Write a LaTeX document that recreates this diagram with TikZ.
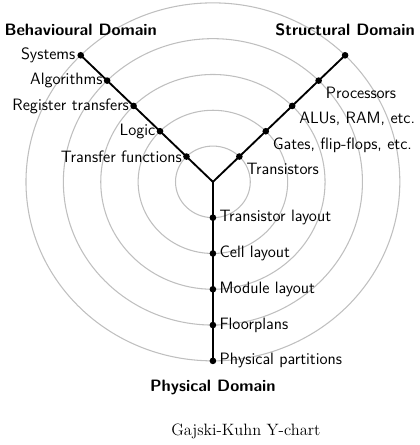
\documentclass[tikz,border=0pt]{standalone}
\usepackage{tikz}
\usetikzlibrary{positioning}

\begin{document}
\begin{tikzpicture}[x=0.991cm, y=0.949cm,
	every node/.style={font=\fontsize{12.4pt}{15pt}\selectfont\sffamily},
	ring/.style={gray!50, line width=0.8pt},
	arm/.style={line width=1.4pt},
	dot/.style={circle, fill=black, inner sep=0pt, minimum size=5pt},
	domainlabel/.style={font=\fontsize{12.4pt}{15pt}\selectfont\sffamily\bfseries}]
	\useasboundingbox (-5.695,-7.35) rectangle (5.535,5.08);
	% rings
	\draw[ring] (0,0) circle (1);
	\draw[ring] (0,0) circle (2);
	\draw[ring] (0,0) circle (3);
	\draw[ring] (0,0) circle (4);
	\draw[ring] (0,0) circle (5);
	% the three axes
	\coordinate (o) at (0,0);
	\node[dot] (b1) at (135:1) {};
	\node[dot] (b2) at (135:2) {};
	\node[dot] (b3) at (135:3) {};
	\node[dot] (b4) at (135:4) {};
	\node[dot] (b5) at (135:5) {};
	\node[dot] (s1) at (45:1) {};
	\node[dot] (s2) at (45:2) {};
	\node[dot] (s3) at (45:3) {};
	\node[dot] (s4) at (45:4) {};
	\node[dot] (s5) at (45:5) {};
	\node[dot] (p1) at (0,-1) {};
	\node[dot] (p2) at (0,-2) {};
	\node[dot] (p3) at (0,-3) {};
	\node[dot] (p4) at (0,-4) {};
	\node[dot] (p5) at (0,-5) {};
	\draw[arm] (o) -- (b5.center);
	\draw[arm] (o) -- (s5.center);
	\draw[arm] (o) -- (p5.center);
	% behavioural
	\node[anchor=east] (lsys) at ([xshift=-0.5pt]b5) {Systems};
	\node[anchor=east] (lalg) at (b4) {Algorithms};
	\node[anchor=east] (lreg) at (b3) {Register transfers};
	\node[anchor=east] (llog) at (b2) {Logic};
	\node[anchor=east] (ltf) at (b1) {Transfer functions};
	% structural
	\node[anchor=base west] (lproc) at ([shift={(1.9pt,-13.5pt)}]s4) {Processors};
	\node[anchor=base west] (lalu) at ([shift={(1.9pt,-13.5pt)}]s3) {ALUs, RAM, etc.};
	\node[anchor=base west] (lgat) at ([shift={(1.9pt,-13.5pt)}]s2) {Gates, flip-flops, etc.};
	\node[anchor=base west] (ltr) at ([shift={(1.9pt,-13.5pt)}]s1) {Transistors};
	% physical
	\node[anchor=west] (ltl) at ([xshift=1.5pt]p1) {Transistor layout};
	\node[anchor=west] (lcl) at ([xshift=1.5pt]p2) {Cell layout};
	\node[anchor=west] (lml) at ([xshift=1.5pt]p3) {Module layout};
	\node[anchor=west] (lfp) at ([xshift=1.5pt]p4) {Floorplans};
	\node[anchor=west] (lpp) at ([xshift=1.5pt]p5) {Physical partitions};
	% domains
	\node[domainlabel, above=8.5pt of b5] (bdom) {Behavioural Domain};
	\node[domainlabel, above=8.5pt of s5] (sdom) {Structural Domain};
	\node[domainlabel, below=8.5pt of p5] (pdom) {Physical Domain};
	\node[font=\fontsize{12.4pt}{15pt}\selectfont\rmfamily] (cap) at (0.88,-6.98) {Gajski-Kuhn Y-chart};
\end{tikzpicture}
\end{document}
